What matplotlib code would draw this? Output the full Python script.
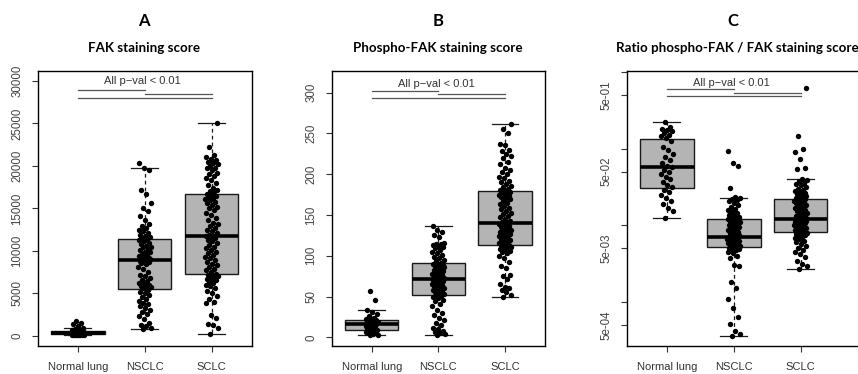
import numpy as np
import matplotlib
matplotlib.use("Agg")
import matplotlib.pyplot as plt

plt.rcParams['font.family'] = ['Liberation Sans', 'DejaVu Sans']

categories = ["Normal lung", "NSCLC", "SCLC"]
panel_letters = ["A", "B", "C"]
panel_titles = ["FAK staining score", "Phospho-FAK staining score",
                "Ratio phospho-FAK / FAK staining score"]
pval_text = "All p\u2212val < 0.01"

# ---- Panel A: FAK staining score ----
fak_normal = [20, 40, 60, 80, 90, 100, 110, 130, 150, 170, 190, 210, 240, 260, 280, 300,
              310, 330, 350, 370, 390, 420, 450, 480, 500, 520, 560, 620, 700, 800, 950,
              1150, 1350, 1550, 1700]
fak_nsclc = [750, 900, 1100, 1300, 1500, 2000, 2300, 2500, 2800, 3000, 3300, 3500, 3700,
             3900, 4100, 4300, 4600, 4800, 5000, 5200, 5400,
             5600, 5700, 5800, 5900, 6000, 6100, 6200, 6400, 6600, 6800, 7000, 7200, 7500,
             7800, 8100, 8400, 8600, 8700, 8800, 8850,
             8900,
             8950, 9000, 9050, 9100, 9200, 9300, 9400, 9500, 9600, 9800, 9900, 10100, 10200,
             10400, 10500, 10600, 10800, 10900, 11100, 11300,
             11400, 11500, 11600, 11800, 11900, 12100, 12300, 12500, 12700, 12900, 13200,
             13600, 14100, 14700, 15000, 15600, 16700, 17200, 19500, 19700, 20300]
fak_sclc = [160, 900, 1200, 1400, 2100, 2400, 3800, 4000, 4300, 4700, 5000, 5300, 5600, 5800,
            6000, 6200, 6300, 6500, 6600, 6700, 6800, 6900, 7000, 7100, 7150,
            7300, 7500, 7700, 7900, 8100, 8300, 8500, 8700, 8900, 9100, 9300, 9500, 9700,
            9900, 10100, 10300, 10500, 10700, 10900, 11100, 11300, 11450, 11600, 11700,
            11780,
            11900, 12100, 12300, 12500, 12700, 12900, 13100, 13300, 13600, 13900, 14200,
            14500, 14800, 15000, 15200, 15400, 15600, 15800, 16000, 16100, 16200, 16300,
            16450, 16600,
            16700, 16900, 17000, 17200, 17400, 17700, 18000, 18300, 18600, 18800, 19000,
            19200, 19500, 19700, 19800, 20000, 20200, 20400, 20500, 20700, 20800, 21000,
            21300, 22200, 25000]

# ---- Panel B: Phospho-FAK staining score ----
pfak_normal = [2.5, 3, 4, 5, 5.5, 6, 7, 7.5, 8, 9, 10, 11, 12, 13, 14, 15, 15.5, 16.3, 17,
               17.5, 18, 18.5, 19, 19.5, 20, 21, 22.5, 23, 24, 26, 29, 31, 33.9, 45.8, 56.8]
pfak_nsclc = [3, 4, 5, 6, 8, 10, 12, 15, 18, 21, 24, 27, 30, 34, 38, 41, 44, 46, 48, 50, 51,
              52, 53, 54, 55, 56, 57, 58, 59, 60, 61, 62, 63, 64, 65, 66, 67, 68, 69, 70, 70.5,
              71.1,
              72, 73, 74, 75, 76, 77, 78, 79, 80, 81, 82, 83, 84, 85, 86, 87, 88, 89, 90, 90.5,
              91, 93, 95, 97, 99, 101, 103, 105, 107, 109, 111, 112, 113, 114, 115, 116, 123,
              126, 129, 131, 137]
pfak_sclc = [50, 52, 55, 58, 60, 62, 66, 72, 75, 77, 85, 88, 92, 97, 100, 103, 105, 106, 107,
             108, 109, 110, 111, 112, 113,
             113.4, 115, 116, 117, 118, 119, 120, 121, 122, 123, 124, 125, 126, 127, 128, 129,
             130, 131, 132, 133, 135, 136, 137, 138.5,
             139.8,
             141, 143, 145, 147, 149, 151, 153, 155, 157, 159, 161, 163, 165, 167, 169, 171,
             172, 173, 174, 175, 176, 177, 178, 179,
             180.6, 182, 184, 186, 188, 190, 192, 195, 197, 200, 203, 205, 208, 212, 215, 220,
             222, 225, 228, 230, 236, 237, 250, 256, 261.6]

# ---- Panel C: ratio phospho-FAK / FAK ----
ratio_normal = [0.0126, 0.0155, 0.017, 0.019, 0.021, 0.023, 0.025, 0.027, 0.029, 0.0316,
                0.034, 0.037, 0.040, 0.043, 0.047, 0.050, 0.053, 0.057, 0.060, 0.064, 0.070,
                0.077, 0.085, 0.095, 0.105, 0.125, 0.139, 0.145, 0.150, 0.160, 0.170, 0.175,
                0.180, 0.190, 0.222]
ratio_nsclc = [0.00036, 0.00038, 0.00042, 0.00052, 0.00063, 0.00083, 0.0011, 0.0015, 0.0018,
               0.0029, 0.0030, 0.0037, 0.0040, 0.0043, 0.0045, 0.0047, 0.0048, 0.0049, 0.0050,
               0.0051, 0.0052,
               0.0053, 0.0054, 0.0055, 0.0056, 0.0057, 0.0058, 0.0059, 0.0060, 0.0061, 0.0062,
               0.0063, 0.0064, 0.0065, 0.0066, 0.0067, 0.0068, 0.0069, 0.0070, 0.00703, 0.00707,
               0.0071,
               0.0073, 0.0075, 0.0077, 0.0079, 0.0081, 0.0083, 0.0086, 0.0089, 0.0092, 0.0095,
               0.0098, 0.0101, 0.0104, 0.0107, 0.0110, 0.0113, 0.0115, 0.0117, 0.0119, 0.0121,
               0.0123, 0.0126, 0.0130, 0.0134, 0.0138, 0.0143, 0.0150, 0.0157, 0.0165, 0.0175,
               0.0185, 0.0195, 0.0205, 0.0215, 0.0220, 0.0224, 0.0235, 0.0303, 0.059, 0.0655,
               0.094]
ratio_sclc = [0.00266, 0.0029, 0.0031, 0.0034, 0.0038, 0.0042, 0.0045, 0.0048, 0.0051, 0.0054,
              0.0057, 0.0060, 0.0063, 0.0066, 0.0069, 0.0071, 0.0073, 0.0075, 0.0076, 0.0077,
              0.0078, 0.0079, 0.0080, 0.0081, 0.0082,
              0.00828, 0.0084, 0.0086, 0.0088, 0.0090, 0.0092, 0.0094, 0.0096, 0.0098, 0.0100,
              0.0102, 0.0104, 0.0106, 0.0108, 0.0110, 0.0111, 0.0112, 0.0113, 0.0114, 0.0115,
              0.0116, 0.0117, 0.0118, 0.0119,
              0.01194,
              0.0122, 0.0126, 0.0130, 0.0134, 0.0138, 0.0142, 0.0146, 0.0150, 0.0155, 0.0160,
              0.0165, 0.0170, 0.0175, 0.0180, 0.0185, 0.0190, 0.0195, 0.0200, 0.0204, 0.0208,
              0.0212, 0.0215, 0.0218, 0.0220,
              0.0224, 0.0228, 0.0233, 0.0238, 0.0245, 0.0252, 0.0260, 0.0270, 0.0280, 0.0290,
              0.0300, 0.0315, 0.0330, 0.0345, 0.0360, 0.0375, 0.0390, 0.0406, 0.054, 0.055,
              0.073, 0.090, 0.100, 0.148, 0.62]

# significance bracket levels (pair 1-2, pair 2-3, pair 1-3) and text level
sig_A = [29000, 28500, 28000, 30000]
sig_B = [302, 298, 294, 311]
sig_C = [0.593, 0.525, 0.485, 0.724]

yticks_A = [0, 5000, 10000, 15000, 20000, 25000, 30000]
yticks_B = [0, 50, 100, 150, 200, 250, 300]
yticks_C = [1, 0.5, 0.1, 0.05, 0.01, 0.005, 0.001, 0.0005]
ylabels_C = ["", "5e-01", "", "5e-02", "", "5e-03", "", "5e-04"]

fig = plt.figure(figsize=(8.58, 3.74), dpi=100)
W, H = 858.0, 374.0

def add_ax(left, right, top, bottom):
    return fig.add_axes([left / W, 1 - bottom / H, (right - left) / W, (bottom - top) / H])

axA = add_ax(37.7, 251.7, 71, 346)
axB = add_ax(331.7, 545.0, 71, 346)
axC = add_ax(626.7, 860.0, 71, 346)

def jitter(n):
    i = np.arange(n)
    return ((i * 0.6180339887 + 0.37) % 1.0 - 0.5) * 0.19

def draw(ax, groups, sig, log=False):
    pos = [1, 2, 3]
    ax.boxplot(groups, positions=pos, widths=0.8, patch_artist=True, showfliers=False,
               whis=1.5, capwidths=0.4, manage_ticks=False,
               boxprops=dict(facecolor="#b4b4b4", edgecolor="#1a1a1a", linewidth=1.0),
               medianprops=dict(color="black", linewidth=2.6, solid_capstyle="butt"),
               whiskerprops=dict(color="#1a1a1a", linewidth=0.9, linestyle=(0, (3, 2.5))),
               capprops=dict(color="#1a1a1a", linewidth=0.9))
    for p, g in zip(pos, groups):
        g = np.asarray(g, dtype=float)
        ax.scatter(p + jitter(len(g)), g, s=15, color="black", linewidths=0, zorder=5)
    if log:
        ax.set_yscale("log")
    lc = "#555555"
    ax.plot([1, 2], [sig[0], sig[0]], color=lc, lw=0.9)
    ax.plot([2, 3], [sig[1], sig[1]], color=lc, lw=0.9)
    ax.plot([1, 3], [sig[2], sig[2]], color=lc, lw=0.9)
    ax.text(1.97, sig[3], pval_text, ha="center", va="center", fontsize=8, color="#333333")
    ax.set_xticks(pos)
    ax.set_xticklabels(categories, fontsize=8, color="#333333")
    ax.tick_params(axis="both", direction="out", length=4.5, width=0.8, color="#333333")
    ax.tick_params(axis="x", pad=7)
    ax.tick_params(axis="y", pad=6, labelsize=8.3, labelcolor="#444444")
    for s in ax.spines.values():
        s.set_linewidth(1.0)
        s.set_color("black")

draw(axA, [fak_normal, fak_nsclc, fak_sclc], sig_A)
axA.set_xlim(0.4, 3.6)
axA.set_ylim(-1217, 31180)
axA.set_yticks(yticks_A)
axA.set_yticklabels([str(v) for v in yticks_A], rotation=90, va="center")

draw(axB, [pfak_normal, pfak_nsclc, pfak_sclc], sig_B)
axB.set_xlim(0.4, 3.6)
axB.set_ylim(-10.6, 326.5)
axB.set_yticks(yticks_B)
axB.set_yticklabels([str(v) for v in yticks_B], rotation=90, va="center")

draw(axC, [ratio_normal, ratio_nsclc, ratio_sclc], sig_C, log=True)
axC.set_xlim(0.4, 0.4 + (860.0 - 626.7) / 66.9)
axC.set_ylim(0.000266, 1.028)
axC.yaxis.set_minor_locator(matplotlib.ticker.NullLocator())
axC.set_yticks(yticks_C)
axC.set_yticklabels(ylabels_C, rotation=90, va="center")
axC.yaxis.set_minor_formatter(matplotlib.ticker.NullFormatter())

title_font = dict(family=["Lato", "DejaVu Sans"], fontweight="bold", color="black")
centers = [144.0, 437.7, 733.3]
sub_centers = [144.0, 437.7, 737.0]
for c, sc, letter, title in zip(centers, sub_centers, panel_letters, panel_titles):
    fig.text(c / W, 1 - 20.7 / H, letter, ha="center", va="center", fontsize=12, **title_font)
    fig.text(sc / W, 1 - 47.7 / H, title, ha="center", va="center", fontsize=9.6, **title_font)

fig.savefig("out.png", dpi=100)
